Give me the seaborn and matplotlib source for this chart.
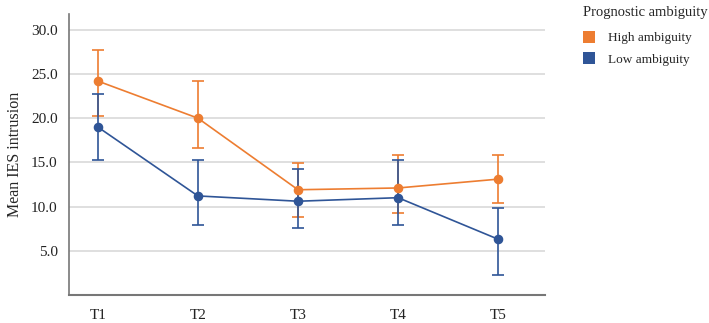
import pandas as pd
import numpy as np
import matplotlib.pyplot as plt
import seaborn as sns
from matplotlib.patches import Patch

times = ["T1", "T2", "T3", "T4", "T5"]
groups = ["High ambiguity", "Low ambiguity"]

high_mean = [24.2, 20.0, 11.9, 12.1, 13.1]
high_lo = [20.2, 16.6, 8.8, 9.3, 10.4]
high_hi = [27.7, 24.2, 14.9, 15.8, 15.8]

low_mean = [19.0, 11.2, 10.6, 11.0, 6.3]
low_lo = [15.3, 7.9, 7.6, 7.9, 2.3]
low_hi = [22.7, 15.3, 14.3, 15.3, 9.8]

colors = {"High ambiguity": "#ED7D31", "Low ambiguity": "#2F5597"}

df = pd.DataFrame({
    "Time": times * 2,
    "Group": [groups[0]] * 5 + [groups[1]] * 5,
    "Mean": high_mean + low_mean,
    "Lo": high_lo + low_lo,
    "Hi": high_hi + low_hi,
})

sns.set_style("white")
plt.rcParams["font.family"] = ["Liberation Serif", "DejaVu Serif"]

fig = plt.figure(figsize=(7.09, 3.23), dpi=100)
ax = fig.add_axes([0.097, 0.087, 0.672, 0.87])

ax.yaxis.grid(True, color="#d9d9d9", linewidth=1.2)
ax.set_axisbelow(True)

# error bars first so markers sit on top
for g in groups:
    sub = df[df["Group"] == g]
    x = np.arange(len(sub))
    ax.errorbar(x, sub["Mean"], yerr=[sub["Mean"] - sub["Lo"], sub["Hi"] - sub["Mean"]],
                fmt="none", ecolor=colors[g], elinewidth=1.2, capsize=4.5, capthick=1.2, zorder=2)

sns.pointplot(data=df, x="Time", y="Mean", hue="Group", order=times, hue_order=groups,
              palette=colors, markers="o", linestyles="-", errorbar=None,
              markersize=6, linewidth=1.2, dodge=False, ax=ax, legend=False)

ax.set_xlim(-0.29, 4.47)
ax.set_ylim(0, 31.8)
ax.set_yticks([5, 10, 15, 20, 25, 30])
ax.set_yticklabels([f"{v:.1f}" for v in [5, 10, 15, 20, 25, 30]])
ax.set_xlabel("")
ax.set_ylabel("Mean IES intrusion", fontsize=11.5, labelpad=6)
ax.tick_params(axis="both", length=0, labelsize=11, colors="#222222")
ax.tick_params(axis="y", pad=8)
ax.tick_params(axis="x", pad=10)

for s in ["top", "right"]:
    ax.spines[s].set_visible(False)
ax.spines["left"].set_color("#777777")
ax.spines["bottom"].set_color("#777777")
ax.spines["left"].set_linewidth(1.2)
ax.spines["bottom"].set_linewidth(1.5)

handles = [Patch(facecolor=colors[g], edgecolor="none", label=g) for g in groups]
leg = fig.legend(handles=handles, title="Prognostic ambiguity", loc="upper left",
                 bbox_to_anchor=(0.807, 1.015), frameon=False, fontsize=9.5,
                 title_fontsize=10.5, handlelength=0.95, handleheight=0.95,
                 handletextpad=1.0, labelspacing=0.6, borderpad=0.3)
leg._legend_box.align = "left"
leg._legend_box.sep = 9

fig.savefig("out.png", dpi=100)
